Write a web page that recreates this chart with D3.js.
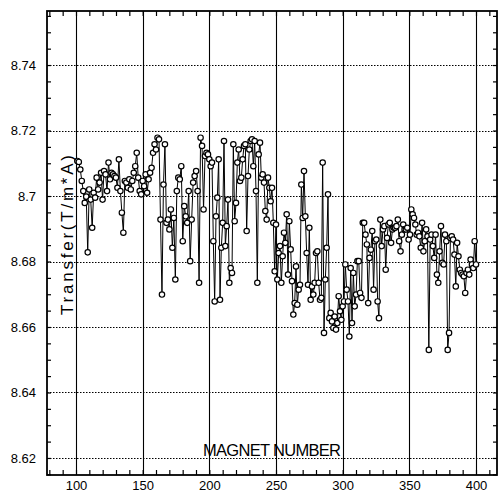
<!DOCTYPE html>
<html>
<head>
<meta charset="utf-8">
<script src="https://cdn.jsdelivr.net/npm/d3@7"></script>
<style>
  body { margin: 0; background: #fff; }
  svg { display: block; }
</style>
</head>
<body>
<script>
"use strict";

// magnet number ranges covered by each run of readings
var ranges = [[101, 199], [200, 305], [306, 400]];

var transfer1 = [
  8.7107, 8.7104, 8.7081, 8.7046, 8.7015, 8.6979, 8.6998, 8.6828, 8.7020, 8.6989,
  8.6903, 8.7010, 8.6995, 8.7056, 8.7020, 8.7041, 8.7071, 8.6989, 8.7076, 8.7066,
  8.7015, 8.7102, 8.7051, 8.7071, 8.7066, 8.7061, 8.7056, 8.7025, 8.7112, 8.7015,
  8.6949, 8.6888, 8.7046, 8.7041, 8.7025, 8.7051, 8.7020, 8.7046, 8.7071, 8.7091,
  8.7132, 8.7056, 8.7015, 8.7005, 8.7046, 8.7030, 8.7066, 8.7010, 8.7051, 8.7071,
  8.7086, 8.7132, 8.7158, 8.7142, 8.7178, 8.7173, 8.6928, 8.6699, 8.7035, 8.7158,
  8.6918, 8.6928, 8.6898, 8.6959, 8.6842, 8.6933, 8.6745, 8.7015, 8.7056, 8.7051,
  8.7091, 8.6862, 8.6969, 8.6938, 8.6918, 8.7015, 8.6801, 8.6928, 8.7041, 8.7061,
  8.7076, 8.7015, 8.6735, 8.7178, 8.7153, 8.6959, 8.7122, 8.7132, 8.7127
];

var transfer2 = [
  8.7112, 8.7091, 8.7102, 8.6862, 8.6678, 8.6938, 8.6995, 8.7112, 8.6683, 8.6842,
  8.6918, 8.7168, 8.6847, 8.6908, 8.6989, 8.6735, 8.6780, 8.6765, 8.7158, 8.6923,
  8.6979, 8.7102, 8.7142, 8.7046, 8.7056, 8.7112, 8.7153, 8.7158, 8.6893, 8.7061,
  8.7142, 8.7168, 8.7173, 8.7091, 8.7168, 8.7015, 8.6735, 8.7127, 8.7163, 8.7056,
  8.7066, 8.7041, 8.6954, 8.6928, 8.7056, 8.7025, 8.6984, 8.7025, 8.6918, 8.6770,
  8.6913, 8.6745, 8.6826, 8.6847, 8.6735, 8.6816, 8.6888, 8.6857, 8.6944, 8.6760,
  8.6923, 8.6837, 8.6740, 8.6638, 8.6673, 8.6785, 8.6668, 8.6714, 8.6729, 8.7035,
  8.6933, 8.7076, 8.6938, 8.6826, 8.6729, 8.6903, 8.6683, 8.6724, 8.6699, 8.6735,
  8.6826, 8.6831, 8.6735, 8.6683, 8.6689, 8.7102, 8.6582, 8.6745, 8.6842, 8.7005,
  8.6627, 8.6643, 8.6617, 8.6597, 8.6632, 8.6592, 8.6612, 8.6694, 8.6648, 8.6622,
  8.6663, 8.6678, 8.6791, 8.6714, 8.6678, 8.6571
];

var transfer3 = [
  8.6780, 8.6612, 8.6765, 8.6663, 8.6699, 8.6801, 8.6801, 8.6704, 8.6689, 8.6918,
  8.6918, 8.6882, 8.6852, 8.6673, 8.6811, 8.6836, 8.6893, 8.6714, 8.6862, 8.6867,
  8.6678, 8.6627, 8.6928, 8.6847, 8.6898, 8.6908, 8.6775, 8.6872, 8.6913, 8.6918,
  8.6857, 8.6898, 8.6903, 8.6903, 8.6908, 8.6928, 8.6862, 8.6831, 8.6882, 8.6913,
  8.6898, 8.6898, 8.6903, 8.6867, 8.6882, 8.6959, 8.6944, 8.6933, 8.6913, 8.6882,
  8.6888, 8.6877, 8.6842, 8.6918, 8.6831, 8.6862, 8.6898, 8.6877, 8.6530, 8.6867,
  8.6882, 8.6847, 8.6811, 8.6882, 8.6760, 8.6735, 8.6831, 8.6908, 8.6796, 8.6791,
  8.6882, 8.6862, 8.6530, 8.6582, 8.6872, 8.6877, 8.6867, 8.6821, 8.6724, 8.6857,
  8.6816, 8.6775, 8.6765, 8.6760, 8.6755, 8.6704, 8.6765, 8.6775, 8.6760, 8.6806,
  8.6791, 8.6780, 8.6862, 8.6791
];

var yTicks = [8.62, 8.64, 8.66, 8.68, 8.70, 8.72, 8.74];
var xTicks = [100, 150, 200, 250, 300, 350, 400];
var xLabel = "MAGNET NUMBER";
var yLabel = "Transfer(T/m*A)";

(function () {
  var W = 498, H = 492;
  var left = 47, right = 497, top = 11, bottom = 475;
  var font = "'Liberation Sans', Arial, sans-serif";

  var x = d3.scaleLinear().domain([78.25, 415.75]).range([left, right]);
  var y = d3.scaleLinear().domain([8.6148, 8.7565]).range([bottom, top]);

  var points = [];
  [transfer1, transfer2, transfer3].forEach(function (vals, k) {
    var r = ranges[k], n = vals.length;
    vals.forEach(function (v, i) {
      points.push({ m: r[0] + (r[1] - r[0]) * i / (n - 1), v: v });
    });
  });

  var svg = d3.select("body").append("svg")
    .attr("width", W).attr("height", H)
    .style("font-family", font);

  // horizontal dotted grid
  svg.append("g").selectAll("line").data(yTicks).enter().append("line")
    .attr("x1", left).attr("x2", right)
    .attr("y1", function (d) { return Math.round(y(d)) + 0.5; })
    .attr("y2", function (d) { return Math.round(y(d)) + 0.5; })
    .attr("stroke", "#000").attr("stroke-width", 1)
    .attr("stroke-dasharray", "1.5,1.5");

  // vertical solid grid
  svg.append("g").selectAll("line").data(xTicks).enter().append("line")
    .attr("y1", top).attr("y2", bottom)
    .attr("x1", function (d) { return Math.round(x(d)) + 0.5; })
    .attr("x2", function (d) { return Math.round(x(d)) + 0.5; })
    .attr("stroke", "#000").attr("stroke-width", 1.1);

  // minor ticks, pointing inwards on all four sides
  var xMinor = d3.range(80, 416, 10);
  var yMinor = d3.range(8.615, 8.757, 0.005);
  function tickStyle(g) {
    g.select(".domain").remove();
    g.selectAll("line").attr("stroke", "#000").attr("stroke-width", 1.2);
    g.selectAll("text").remove();
  }
  svg.append("g").attr("transform", "translate(0," + bottom + ")")
    .call(d3.axisBottom(x).tickValues(xMinor).tickSize(-5)).call(tickStyle);
  svg.append("g").attr("transform", "translate(0," + top + ")")
    .call(d3.axisTop(x).tickValues(xMinor).tickSize(-5)).call(tickStyle);
  svg.append("g").attr("transform", "translate(" + left + ",0)")
    .call(d3.axisLeft(y).tickValues(yMinor).tickSize(-4)).call(tickStyle);
  svg.append("g").attr("transform", "translate(" + right + ",0)")
    .call(d3.axisRight(y).tickValues(yMinor).tickSize(-4)).call(tickStyle);

  // frame
  svg.append("rect")
    .attr("x", left).attr("y", top)
    .attr("width", right - left).attr("height", bottom - top)
    .attr("fill", "none").attr("stroke", "#000").attr("stroke-width", 1.8);

  // tick labels
  var yAx = svg.append("g").attr("transform", "translate(" + left + ",0)")
    .call(d3.axisLeft(y).tickValues(yTicks).tickSize(0).tickPadding(11)
      .tickFormat(d3.format(".2~f")));
  yAx.select(".domain").remove();
  yAx.selectAll("text").attr("font-size", 13).attr("fill", "#000")
    .style("font-family", font);

  var xAx = svg.append("g").attr("transform", "translate(0," + bottom + ")")
    .call(d3.axisBottom(x).tickValues(xTicks).tickSize(0).tickPadding(6)
      .tickFormat(d3.format("d")));
  xAx.select(".domain").remove();
  xAx.selectAll("text").attr("font-size", 13).attr("fill", "#000")
    .style("font-family", font);

  // data line and circles
  var line = d3.line()
    .x(function (d) { return x(d.m); })
    .y(function (d) { return y(d.v); });
  svg.append("path").datum(points)
    .attr("d", line).attr("fill", "none")
    .attr("stroke", "#000").attr("stroke-width", 1);

  svg.append("g").selectAll("circle").data(points).enter().append("circle")
    .attr("cx", function (d) { return x(d.m); })
    .attr("cy", function (d) { return y(d.v); })
    .attr("r", 2.7)
    .attr("fill", "#fff").attr("stroke", "#000").attr("stroke-width", 1.2);

  // axis titles
  svg.append("text")
    .attr("x", 203).attr("y", 456)
    .attr("textLength", 138).attr("lengthAdjust", "spacing")
    .attr("font-size", 16.5).attr("fill", "#000")
    .text(xLabel);

  svg.append("text")
    .attr("transform", "translate(73,315) rotate(-90)")
    .attr("textLength", 160).attr("lengthAdjust", "spacing")
    .attr("font-size", 17).attr("fill", "#000")
    .text(yLabel);
}());
</script>
</body>
</html>
